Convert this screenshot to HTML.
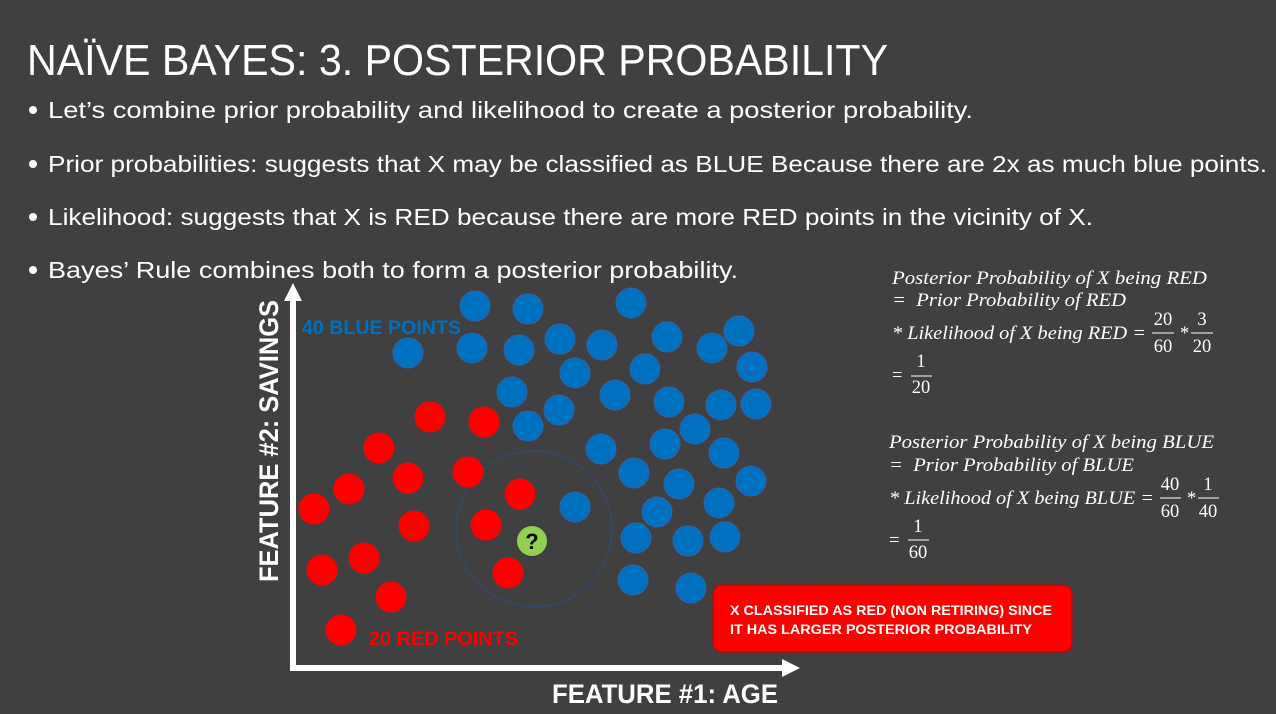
<!DOCTYPE html>
<html><head><meta charset="utf-8"><style>
html,body{margin:0;padding:0;background:#404040;}
svg{display:block;font-family:"Liberation Sans",sans-serif;}
.m{font-family:"Liberation Serif",serif;font-style:italic;fill:#fff;font-size:18.5px;}
.n{font-family:"Liberation Serif",serif;fill:#fff;font-size:18.5px;}
</style></head><body>
<svg id="slide" width="1276" height="714" viewBox="0 0 1276 714">
<rect width="1276" height="714" fill="#404040"/>
<text x="27" y="75" fill="#fff" font-size="44" textLength="861" lengthAdjust="spacingAndGlyphs">NAÏVE BAYES: 3. POSTERIOR PROBABILITY</text>
<g fill="#fff" font-size="23">
<circle cx="33" cy="110" r="4" fill="#fff"/><text x="48" y="118" textLength="925" lengthAdjust="spacingAndGlyphs">Let’s combine prior probability and likelihood to create a posterior probability.</text>
<circle cx="33" cy="164" r="4" fill="#fff"/><text x="48" y="172" textLength="1219" lengthAdjust="spacingAndGlyphs">Prior probabilities: suggests that X may be classified as BLUE Because there are 2x as much blue points.</text>
<circle cx="33" cy="217" r="4" fill="#fff"/><text x="48" y="225" textLength="1045" lengthAdjust="spacingAndGlyphs">Likelihood: suggests that X is RED because there are more RED points in the vicinity of X.</text>
<circle cx="33" cy="270" r="4" fill="#fff"/><text x="48" y="278" textLength="690" lengthAdjust="spacingAndGlyphs">Bayes’ Rule combines both to form a posterior probability.</text>
</g>
<g>
<text class="m" x="892" y="284" textLength="315" lengthAdjust="spacingAndGlyphs">Posterior Probability of X being RED</text>
<text class="m" x="892" y="306" textLength="234" lengthAdjust="spacingAndGlyphs">= &#160;Prior Probability of RED</text>
<text class="m" x="892" y="339" textLength="254" lengthAdjust="spacingAndGlyphs">* Likelihood of X being RED =</text>
<text class="n" x="1163" y="325" text-anchor="middle">20</text><line x1="1152" x2="1174" y1="333" y2="333" stroke="#fff"/><text class="n" x="1163" y="352" text-anchor="middle">60</text>
<text class="n" x="1180" y="339">*</text>
<text class="n" x="1202" y="325" text-anchor="middle">3</text><line x1="1191" x2="1213" y1="333" y2="333" stroke="#fff"/><text class="n" x="1202" y="352" text-anchor="middle">20</text>
<text class="n" x="892" y="381">=</text>
<text class="n" x="921" y="367" text-anchor="middle">1</text><line x1="911" x2="932" y1="376" y2="376" stroke="#fff"/><text class="n" x="921" y="393" text-anchor="middle">20</text>
</g>
<g>
<text class="m" x="889" y="448" textLength="325" lengthAdjust="spacingAndGlyphs">Posterior Probability of X being BLUE</text>
<text class="m" x="889" y="471" textLength="245" lengthAdjust="spacingAndGlyphs">= &#160;Prior Probability of BLUE</text>
<text class="m" x="889" y="504" textLength="265" lengthAdjust="spacingAndGlyphs">* Likelihood of X being BLUE =</text>
<text class="n" x="1170" y="490" text-anchor="middle">40</text><line x1="1160" x2="1181" y1="498" y2="498" stroke="#fff"/><text class="n" x="1170" y="517" text-anchor="middle">60</text>
<text class="n" x="1187" y="504">*</text>
<text class="n" x="1208" y="490" text-anchor="middle">1</text><line x1="1198" x2="1219" y1="498" y2="498" stroke="#fff"/><text class="n" x="1208" y="517" text-anchor="middle">40</text>
<text class="n" x="889" y="546">=</text>
<text class="n" x="918" y="532" text-anchor="middle">1</text><line x1="908" x2="929" y1="540" y2="540" stroke="#fff"/><text class="n" x="918" y="558" text-anchor="middle">60</text>
</g>
<g id="plot"></g>
<g>
<line x1="293" y1="668" x2="293" y2="298" stroke="#fff" stroke-width="6"/>
<polygon points="284,301 293,283 302,301" fill="#fff"/>
<line x1="290" y1="668" x2="785" y2="668" stroke="#fff" stroke-width="6"/>
<polygon points="782,659 800,668 782,677" fill="#fff"/>
<text transform="translate(278,582) rotate(-90)" fill="#fff" font-size="27" font-weight="bold" textLength="282" lengthAdjust="spacingAndGlyphs">FEATURE #2: SAVINGS</text>
<text x="552" y="703" fill="#fff" font-size="27" font-weight="bold" textLength="226" lengthAdjust="spacingAndGlyphs">FEATURE #1: AGE</text>
</g>
<text x="302" y="334" fill="#0070C0" font-size="19" font-weight="bold" textLength="159" lengthAdjust="spacingAndGlyphs">40 BLUE POINTS</text>
<text x="369" y="645" fill="#ff0000" font-size="19" font-weight="bold" textLength="149" lengthAdjust="spacingAndGlyphs">20 RED POINTS</text>
<g>
<rect x="713" y="585" width="359" height="67" rx="9" fill="#ff0000" stroke="#c00000" stroke-width="1"/>
<text x="730" y="615" fill="#fff" font-size="13.5" font-weight="bold" textLength="322" lengthAdjust="spacingAndGlyphs">X CLASSIFIED AS RED (NON RETIRING) SINCE</text>
<text x="730" y="634" fill="#fff" font-size="13.5" font-weight="bold" textLength="302" lengthAdjust="spacingAndGlyphs">IT HAS LARGER POSTERIOR PROBABILITY</text>
</g>
<script>
const blueX=[182,235,338,115,179,226,267,309,374,419,446,459,282,352,219,266,235,322,376,428,463,402,372,308,431,341,386,458,426,364,282,343,395,432,340,398];
const blueY=[362,359,365,315,320,318,329,323,331,320,337,301,295,299,276,258,242,273,266,263,264,239,224,219,215,195,184,187,165,156,161,130,127,131,88,80];
const redX=[137,191,86,115,175,56,21,121,227,193,71,29,215,98,48];
const redY=[251,246,220,190,196,179,159,142,174,143,110,98,95,71,38];
const queryX=[239], queryY=[127];
const x=v=>293+v, y=v=>668-v;
const NS="http://www.w3.org/2000/svg", g=document.getElementById('plot');
const ring=document.createElementNS(NS,'circle');


ring.setAttribute('cx',x(queryX[0]+2));ring.setAttribute('cy',y(queryY[0]+12));ring.setAttribute('r',78);
ring.setAttribute('fill','none');ring.setAttribute('stroke','#2F4A78');ring.setAttribute('stroke-width','1.2');
g.appendChild(ring);
blueX.forEach((v,i)=>{const c=document.createElementNS(NS,'circle');


c.setAttribute('cx',x(v));c.setAttribute('cy',y(blueY[i]));c.setAttribute('r',15);
c.setAttribute('fill','#0070C0');c.setAttribute('stroke','#2E63A8');g.appendChild(c);});
redX.forEach((v,i)=>{const c=document.createElementNS(NS,'circle');


c.setAttribute('cx',x(v));c.setAttribute('cy',y(redY[i]));c.setAttribute('r',15.5);
c.setAttribute('fill','#ff0000');g.appendChild(c);});
const q=document.createElementNS(NS,'circle');


q.setAttribute('cx',x(queryX[0]));q.setAttribute('cy',y(queryY[0]));q.setAttribute('r',15);q.setAttribute('fill','#92D050');
g.appendChild(q);
const t=document.createElementNS(NS,'text');


t.setAttribute('x',x(queryX[0]));t.setAttribute('y',y(queryY[0])+8);t.setAttribute('text-anchor','middle');
t.setAttribute('font-size','22');t.setAttribute('font-weight','bold');t.textContent='?';
g.appendChild(t);
</script>
</svg>
</body></html>
